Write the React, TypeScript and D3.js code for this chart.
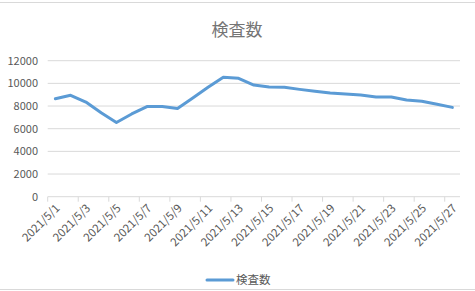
import React from "react";
import * as d3 from "d3";

const dates: string[] = Array.from({ length: 27 }, (_, i) => `2021/5/${i + 1}`);
const values: number[] = [
  8650, 8950, 8350, 7400, 6550, 7300, 7950, 7950, 7780, 8700, 9650, 10550, 10450,
  9850, 9680, 9650, 9470, 9300, 9150, 9060, 8970, 8800, 8800, 8530, 8420, 8150, 7880,
];
const yTicks: number[] = [0, 2000, 4000, 6000, 8000, 10000, 12000];
const seriesName = "検査数";
const title = "検査数";

const W = 475;
const H = 291;
const FONT = "'Noto Sans CJK JP', 'Noto Sans', sans-serif";

export default function App() {
  const x0 = 47.7;
  const x1 = 460;
  const yBottom = 196.7;
  const yTop = 60.7;
  const band = d3.scaleBand<string>().domain(dates).range([x0, x1]).paddingInner(0).paddingOuter(0);
  const bw = band.bandwidth();
  const xc = (d: string) => (band(d) as number) + bw / 2;
  const y = d3.scaleLinear().domain([0, 12000]).range([yBottom, yTop]);
  const line = d3
    .line<number>()
    .x((_, i) => xc(dates[i]))
    .y((v) => y(v));

  const tickIdx = dates.map((_, i) => i).filter((i) => i % 2 === 0);

  return (
    <svg
      width={W}
      height={H}
      style={{ position: "absolute", left: 0, top: 0, background: "#fff" }}
      fontFamily={FONT}
    >
      <rect x={0} y={0} width={W} height={H} fill="#fff" />
      <line x1={0} x2={W} y1={2.5} y2={2.5} stroke="#d9d9d9" />
      <line x1={0} x2={W} y1={289.5} y2={289.5} stroke="#d9d9d9" />
      <text x={237} y={36} textAnchor="middle" fontSize={17} fill="#757575">
        {title}
      </text>
      {yTicks.map((t) => (
        <g key={t}>
          {t !== 0 && (
            <line x1={x0} x2={x1} y1={y(t)} y2={y(t)} stroke="#d9d9d9" strokeWidth={1} />
          )}
          <text x={38} y={y(t) + 4} textAnchor="end" fontSize={11} fill="#595959">
            {t}
          </text>
        </g>
      ))}
      <line x1={x0} x2={x1} y1={yBottom} y2={yBottom} stroke="#d9d9d9" />
      {tickIdx.map((i) => (
        <line
          key={"t" + i}
          x1={band(dates[i]) as number}
          x2={band(dates[i]) as number}
          y1={yBottom}
          y2={yBottom + 5}
          stroke="#d9d9d9"
        />
      ))}
      {tickIdx.map((i) => (
        <text
          key={"l" + i}
          transform={`translate(${xc(dates[i]) + 3},${yBottom + 10}) rotate(-45)`}
          textAnchor="end"
          fontSize={11.5}
          fill="#595959"
          dominantBaseline="middle"
        >
          {dates[i]}
        </text>
      ))}
      <path
        d={line(values) || ""}
        fill="none"
        stroke="#5b9bd5"
        strokeWidth={3}
        strokeLinejoin="round"
        strokeLinecap="round"
      />
      <line x1={207} x2={233} y1={280} y2={280} stroke="#5b9bd5" strokeWidth={3} strokeLinecap="round" />
      <text x={236} y={284} fontSize={11.5} fill="#595959">
        {seriesName}
      </text>
    </svg>
  );
}
